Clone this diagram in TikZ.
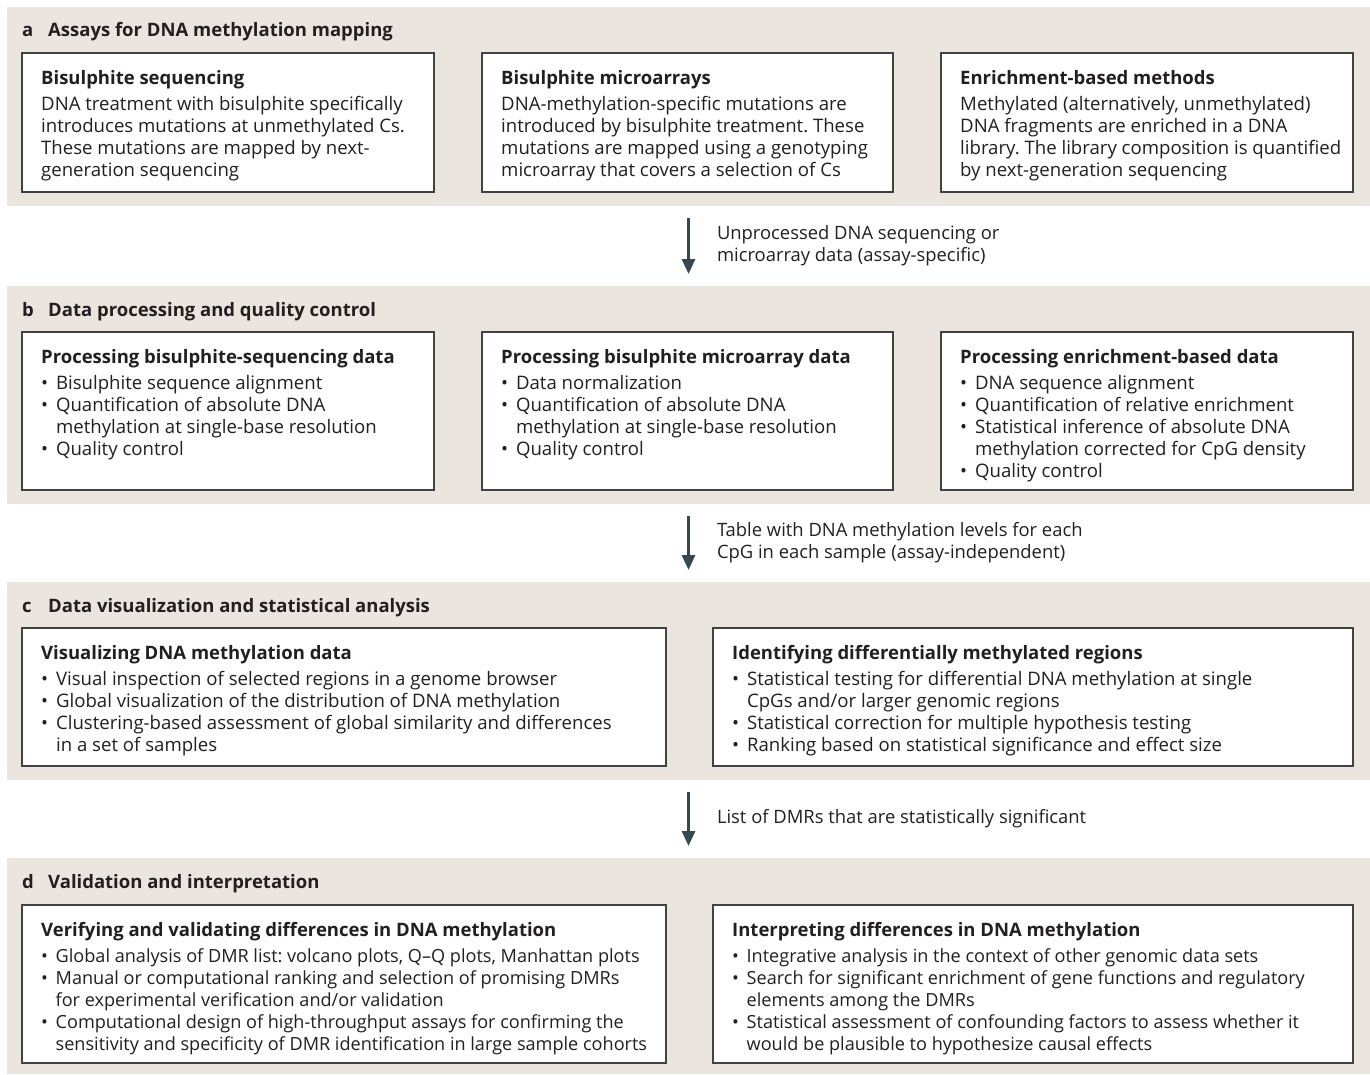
\documentclass[tikz,border=0pt]{standalone}
\usepackage{fontspec}
\setmainfont{Open Sans}
\frenchspacing
\usepackage{tikz}
\usetikzlibrary{positioning,arrows.meta}
\definecolor{panelcolor}{RGB}{234,230,223}
\definecolor{arrowcolor}{RGB}{56,72,82}
\definecolor{inkcolor}{RGB}{35,31,32}
\tikzset{
    panel/.style={rectangle, fill=panelcolor, draw=none, inner sep=0pt, outer sep=0pt, anchor=north west},
    method box/.style={rectangle, draw=inkcolor!85, line width=1.2pt, fill=white, inner sep=0pt, outer sep=0pt, anchor=north west},
    panel title/.style={anchor=base west, inner sep=0pt, font=\fontsize{18.5}{22}\selectfont\bfseries, text=inkcolor},
    box text/.style={align=left, inner sep=0pt, font=\fontsize{18.6}{22}\selectfont, text=inkcolor},
    tight text/.style={box text, font=\fontsize{18.1}{22}\selectfont},
    flow arrow/.style={-{Triangle[length=15pt, width=13pt]}, line width=3pt, draw=arrowcolor, shorten <=12pt, shorten >=12pt},
    flow label/.style={anchor=west, align=left, inner sep=0pt, font=\fontsize{18.4}{22}\selectfont, text=inkcolor}
}
\newcommand{\bul}{\makebox[0.8em][l]{\textbullet}}
\newcommand{\wrapind}{\hspace*{0.8em}}
\newcommand{\boxhead}[1]{{\fontsize{18.5}{22}\selectfont\bfseries #1}\\[4pt]}
\newcommand{\panelletter}[1]{\makebox[26pt][l]{#1}}

\begin{document}
\begin{tikzpicture}[x=1pt, y=-1pt]
    \useasboundingbox (0,0) rectangle (1370,1074);

    % Panels (beige bands)
    \node[panel, minimum width=1363pt, minimum height=199pt] (pa) at (7,7) {};
    \node[panel, minimum width=1363pt, minimum height=218pt] (pb) at (7,286) {};
    \node[panel, minimum width=1363pt, minimum height=198pt] (pc) at (7,582) {};
    \node[panel, minimum width=1363pt, minimum height=216pt] (pd) at (7,858) {};

    % Panel headings
    \node[panel title] (ta) at (22,36) {\panelletter{a}Assays for DNA methylation mapping};
    \node[panel title] (tb) at (22,316) {\panelletter{b}Data processing and quality control};
    \node[panel title] (tc) at (22,612) {\panelletter{c}Data visualization and statistical analysis};
    \node[panel title] (td) at (22,888) {\panelletter{d}Validation and interpretation};

    % a: assays
    \node[method box, minimum width=412pt, minimum height=139pt] (a1) at (22,53) {};
    \node[method box, minimum width=411pt, minimum height=139pt] (a2) at (482,53) {};
    \node[method box, minimum width=412pt, minimum height=139pt] (a3) at (941,53) {};
    \node[box text, below right=17pt and 19pt of a1.north west] (a1text) {\boxhead{Bisulphite sequencing}
        DNA treatment with bisulphite specifically\\
        introduces mutations at unmethylated Cs.\\
        These mutations are mapped by next-\\
        generation sequencing};
    \node[box text, below right=17pt and 19pt of a2.north west] (a2text) {\boxhead{Bisulphite microarrays}
        DNA-methylation-specific mutations are\\
        introduced by bisulphite treatment. These\\
        mutations are mapped using a genotyping\\
        microarray that covers a selection of Cs};
    \node[box text, below right=17pt and 19pt of a3.north west] (a3text) {\boxhead{Enrichment-based methods}
        Methylated (alternatively, unmethylated)\\
        DNA fragments are enriched in a DNA\\
        library. The library composition is quantified\\
        by next-generation sequencing};

    % b: processing
    \node[method box, minimum width=412pt, minimum height=158pt] (b1) at (22,332) {};
    \node[method box, minimum width=411pt, minimum height=158pt] (b2) at (482,332) {};
    \node[method box, minimum width=412pt, minimum height=158pt] (b3) at (941,332) {};
    \node[box text, below right=17pt and 19pt of b1.north west] (b1text) {\boxhead{Processing bisulphite-sequencing data}
        \bul Bisulphite sequence alignment\\
        \bul Quantification of absolute DNA\\
        \wrapind methylation at single-base resolution\\
        \bul Quality control};
    \node[box text, below right=17pt and 19pt of b2.north west] (b2text) {\boxhead{Processing bisulphite microarray data}
        \bul Data normalization\\
        \bul Quantification of absolute DNA\\
        \wrapind methylation at single-base resolution\\
        \bul Quality control};
    \node[box text, below right=17pt and 19pt of b3.north west] (b3text) {\boxhead{Processing enrichment-based data}
        \bul DNA sequence alignment\\
        \bul Quantification of relative enrichment\\
        \bul Statistical inference of absolute DNA\\
        \wrapind methylation corrected for CpG density\\
        \bul Quality control};

    % c: visualization and statistics
    \node[method box, minimum width=644pt, minimum height=138pt] (c1) at (22,628) {};
    \node[method box, minimum width=640pt, minimum height=138pt] (c2) at (713,628) {};
    \node[box text, below right=17pt and 19pt of c1.north west] (c1text) {\boxhead{Visualizing DNA methylation data}
        \bul Visual inspection of selected regions in a genome browser\\
        \bul Global visualization of the distribution of DNA methylation\\
        \bul Clustering-based assessment of global similarity and differences\\
        \wrapind in a set of samples};
    \node[box text, below right=17pt and 19pt of c2.north west] (c2text) {\boxhead{Identifying differentially methylated regions}
        \bul Statistical testing for differential DNA methylation at single\\
        \wrapind CpGs and/or larger genomic regions\\
        \bul Statistical correction for multiple hypothesis testing\\
        \bul Ranking based on statistical significance and effect size};

    % d: validation and interpretation
    \node[method box, minimum width=644pt, minimum height=158pt] (d1) at (22,905) {};
    \node[method box, minimum width=640pt, minimum height=158pt] (d2) at (713,905) {};
    \node[tight text, below right=17pt and 19pt of d1.north west] (d1text) {\boxhead{Verifying and validating differences in DNA methylation}
        \bul Global analysis of DMR list: volcano plots, Q--Q plots, Manhattan plots\\
        \bul Manual or computational ranking and selection of promising DMRs\\
        \wrapind for experimental verification and/or validation\\
        \bul Computational design of high-throughput assays for confirming the\\
        \wrapind sensitivity and specificity of DMR identification in large sample cohorts};
    \node[tight text, below right=17pt and 19pt of d2.north west] (d2text) {\boxhead{Interpreting differences in DNA methylation}
        \bul Integrative analysis in the context of other genomic data sets\\
        \bul Search for significant enrichment of gene functions and regulatory\\
        \wrapind elements among the DMRs\\
        \bul Statistical assessment of confounding factors to assess whether it\\
        \wrapind would be plausible to hypothesize causal effects};

    % Data flow between panels
    \draw[flow arrow] (pa.south) -- node[flow label, right=27pt] {Unprocessed DNA sequencing or\\microarray data (assay-specific)} (pb.north);
    \draw[flow arrow] (pb.south) -- node[flow label, right=27pt] {Table with DNA methylation levels for each\\CpG in each sample (assay-independent)} (pc.north);
    \draw[flow arrow] (pc.south) -- node[flow label, right=27pt] {List of DMRs that are statistically significant} (pd.north);
\end{tikzpicture}
\end{document}
